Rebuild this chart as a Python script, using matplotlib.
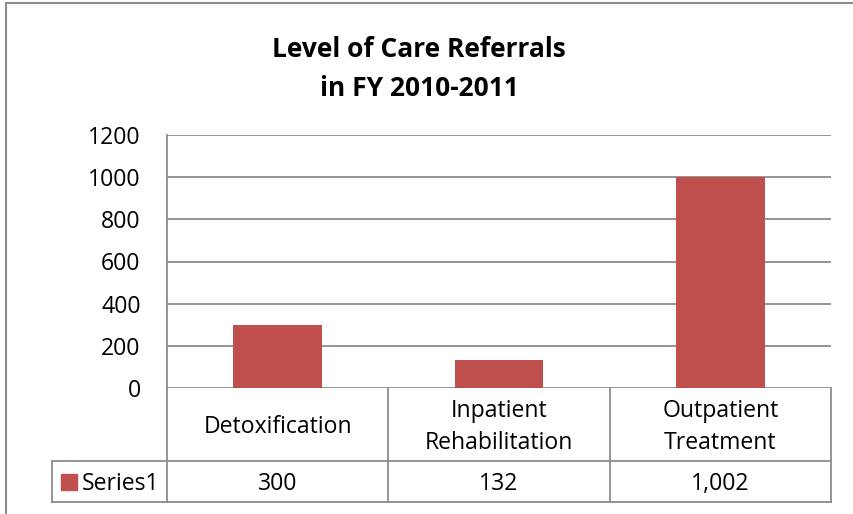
import numpy as np
import matplotlib
matplotlib.use("Agg")
import matplotlib.pyplot as plt
import matplotlib.transforms as mtransforms
from matplotlib.lines import Line2D
from matplotlib.patches import Rectangle

categories = ["Detoxification", "Inpatient\nRehabilitation", "Outpatient\nTreatment"]
values = [300, 132, 1002]
series_name = "Series1"
y_ticks = [0, 200, 400, 600, 800, 1000, 1200]
title = "Level of Care Referrals\nin FY 2010-2011"

BAR_COLOR = "#C0504D"
LINE_COLOR = "#8C8C8C"
W, H = 854, 514
FS = 16.6

plt.rcParams["font.family"] = ["Open Sans", "DejaVu Sans"]


def px_box(x0, y0, x1, y1):
    # pixel box (top-left origin) -> figure fraction rect
    return [x0 / W, 1 - y1 / H, (x1 - x0) / W, (y1 - y0) / H]


fig = plt.figure(figsize=(W / 100, H / 100), dpi=100)

# chart area border (cut off at right / bottom like the screenshot)
fig.add_artist(Line2D([6 / W, 1], [1 - 3 / H, 1 - 3 / H], color=LINE_COLOR, lw=1.5))
fig.add_artist(Line2D([6 / W, 6 / W], [0, 1 - 3 / H], color=LINE_COLOR, lw=1.5))

fig.text(419 / W, 1 - 69 / H, title, ha="center", va="center",
         fontsize=19, fontweight="bold", linespacing=1.6)

ax = fig.add_axes(px_box(167, 135, 831, 388))
x = np.arange(len(values)) + 0.5
ax.bar(x, values, width=0.4, color=BAR_COLOR, zorder=3)
ax.set_xlim(0, len(values))
ax.set_ylim(0, 1200)
ax.set_yticks(y_ticks)
ax.set_xticks([])
ax.yaxis.grid(True, color=LINE_COLOR, lw=1.3)
ax.set_axisbelow(True)
for side in ["top", "right", "bottom"]:
    ax.spines[side].set_visible(False)
ax.spines["left"].set_color(LINE_COLOR)
ax.spines["left"].set_linewidth(1.3)
ax.tick_params(axis="y", length=0, pad=19, labelsize=FS)

# data table under the plot
trans = mtransforms.blended_transform_factory(ax.transData, ax.transAxes)
ax_h = 388 - 135
r1 = -(461 - 388) / ax_h
r2 = -(502 - 388) / ax_h
nudge = -2.5 / ax_h  # text sits a touch low in the cells
x_leg = (52 - 167) / (831 - 167) * len(values)
line_kw = dict(color=LINE_COLOR, lw=1.3, transform=trans, clip_on=False)

for xi in range(len(values) + 1):
    ax.add_line(Line2D([xi, xi], [0, r2], **line_kw))
ax.add_line(Line2D([x_leg, len(values)], [r1, r1], **line_kw))
ax.add_line(Line2D([x_leg, len(values)], [r2, r2], **line_kw))
ax.add_line(Line2D([x_leg, x_leg], [r1, r2], **line_kw))

for xi, cat, v in zip(x, categories, values):
    ax.text(xi, r1 / 2 + nudge, cat, transform=trans, ha="center", va="center",
            fontsize=FS, linespacing=1.45)
    ax.text(xi, (r1 + r2) / 2 + nudge, f"{v:,}", transform=trans, ha="center",
            va="center", fontsize=FS)

# legend key in the table
sq_w = 16 / (831 - 167) * len(values)
sq_h = 16 / ax_h
ax.add_patch(Rectangle(((61 - 167) / (831 - 167) * len(values), (r1 + r2) / 2 - sq_h / 2),
                       sq_w, sq_h, color=BAR_COLOR, transform=trans, clip_on=False))
ax.text((82 - 167) / (831 - 167) * len(values), (r1 + r2) / 2 + nudge, series_name,
        transform=trans, ha="left", va="center", fontsize=FS)

fig.savefig("out.png", dpi=100)
